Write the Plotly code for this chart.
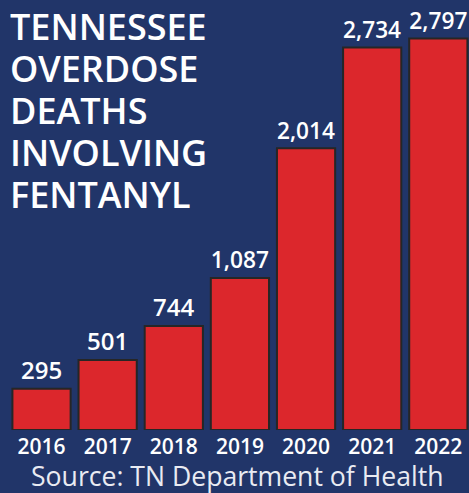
import plotly.graph_objects as go

years = ["2016", "2017", "2018", "2019", "2020", "2021", "2022"]
deaths = [295, 501, 744, 1087, 2014, 2734, 2797]
value_labels = ["295", "501", "744", "1,087", "2,014", "2,734", "2,797"]
title_lines = ["TENNESSEE", "OVERDOSE", "DEATHS", "INVOLVING", "FENTANYL"]
source_text = "Source: TN Department of Health"

BG = "#213569"
RED = "#dc272c"

fig = go.Figure(go.Bar(
    x=years, y=deaths, text=value_labels, textposition="outside",
    cliponaxis=False,
    textfont=dict(family="Open Sans", size=24, color="white", weight=600),
    marker=dict(color=RED, line=dict(color="#262626", width=2)),
    width=0.88,
))

annotations = []
for i, line in enumerate(title_lines):
    annotations.append(dict(
        text=line, xref="paper", yref="paper", x=0.0, y=1.0,
        xanchor="left", yanchor="middle", showarrow=False,
        height=40, valign="middle",
        yshift=-(25.5 + 42.2 * i),
        font=dict(family="Open Sans", size=36, color="white", weight=600)))
annotations.append(dict(
    text=source_text, xref="paper", yref="paper",
    x=0.497, y=0, yshift=-46, xanchor="center", yanchor="middle",
    showarrow=False,
    font=dict(family="Open Sans", size=26.6, color="#e9ebf2")))

fig.update_layout(
    width=469, height=493,
    paper_bgcolor=BG, plot_bgcolor=BG,
    margin=dict(l=8, r=0, t=0, b=63),
    showlegend=False,
    xaxis=dict(type="category", range=[-0.507, 6.464], showgrid=False, zeroline=False,
               showline=False, ticks="", ticklabelstandoff=2,
               tickfont=dict(family="Open Sans", size=21, color="white", weight=600)),
    yaxis=dict(range=[0, 3073], visible=False),
    annotations=annotations,
)

fig.write_html("out.html", config={"displayModeBar": False},
               post_script="document.body.style.margin='0';document.body.style.background='%s';" % BG)
